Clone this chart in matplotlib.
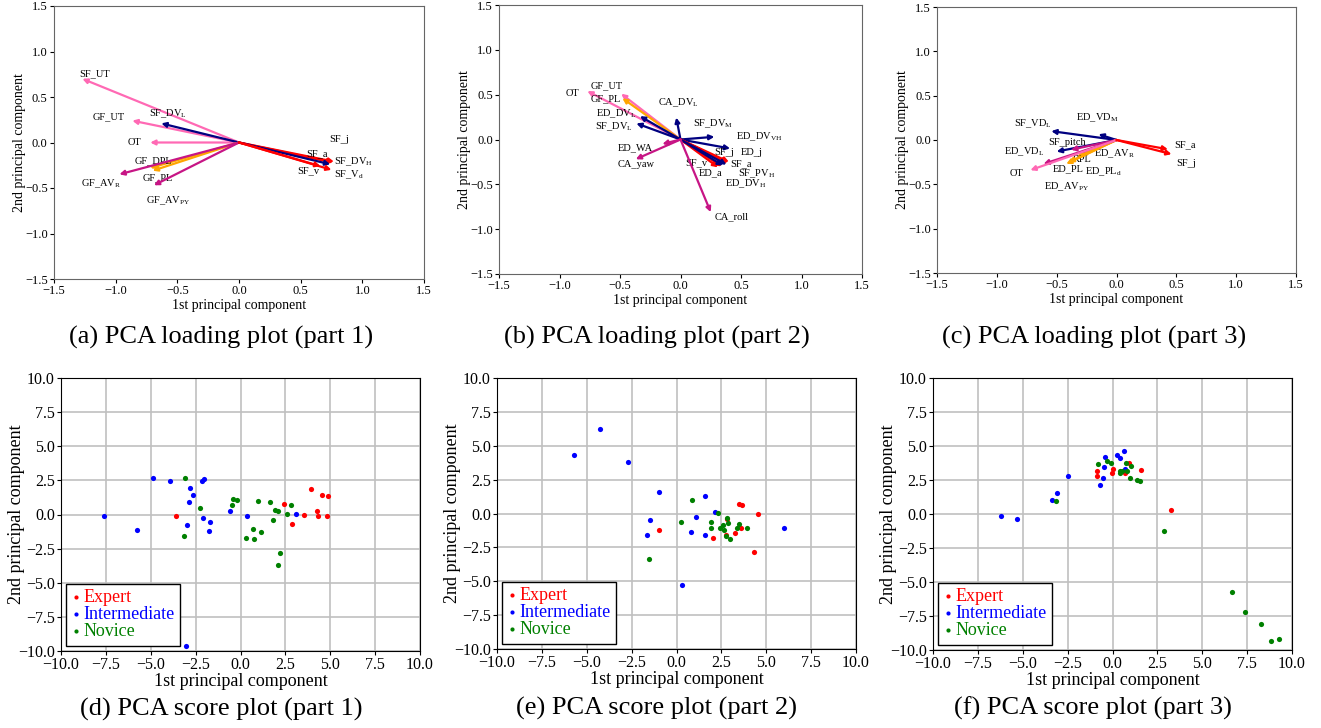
import matplotlib
matplotlib.use("Agg")
from matplotlib import pyplot as plt

plt.rcParams['font.family'] = ['Liberation Serif', 'DejaVu Serif']
plt.rcParams['mathtext.fontset'] = 'stix'
plt.rcParams['axes.unicode_minus'] = True

# colour per variable group
CAT_COLOR = {
    "kin": "#ff0000",   # a / j / v
    "dv": "#000080",    # DV / VD / PV
    "ut": "#ff69b4",    # UT / OT
    "pl": "#ffa500",    # PL
    "av": "#c71585",    # AV / CA_roll / CA_yaw / WA / pitch
}

# ---- loading plot, part 1
names_a = ["SF_UT", "GF_UT", "OT", r"SF_DV$_\mathregular{L}$", "GF_DPL", "GF_PL",
           r"GF_AV$_\mathregular{R}$", r"GF_AV$_\mathregular{PY}$", "SF_j", "SF_a",
           r"SF_DV$_\mathregular{H}$", "SF_v", r"SF_V$_\mathregular{d}$"]
pc1_a = [-1.27, -0.865, -0.72, -0.63, -0.72, -0.70, -0.97, -0.69, 0.77, 0.76, 0.74, 0.66, 0.75]
pc2_a = [0.70, 0.24, 0.0, 0.21, -0.28, -0.31, -0.35, -0.47, -0.21, -0.22, -0.24, -0.26, -0.30]
cat_a = ["ut", "ut", "ut", "dv", "pl", "pl", "av", "av", "kin", "kin", "dv", "kin", "kin"]

# ---- loading plot, part 2
names_b = ["OT", "GF_UT", "GF_PL", r"ED_DV$_\mathregular{L}$", r"SF_DV$_\mathregular{L}$",
           r"CA_DV$_\mathregular{L}$", r"SF_DV$_\mathregular{M}$", r"ED_DV$_\mathregular{VH}$",
           "SF_j", "ED_j", "SF_a", r"SF_PV$_\mathregular{H}$", "SF_v", "ED_a",
           r"ED_DV$_\mathregular{H}$", "ED_WA", "CA_yaw", "CA_roll"]
pc1_b = [-0.77, -0.49, -0.48, -0.335, -0.365, -0.035, 0.28, 0.41, 0.40, 0.39, 0.38, 0.38,
         0.31, 0.34, 0.35, -0.15, -0.37, 0.25]
pc2_b = [0.54, 0.51, 0.46, 0.26, 0.18, 0.245, 0.03, -0.10, -0.25, -0.26, -0.27, -0.28,
         -0.31, -0.30, -0.29, -0.05, -0.22, -0.81]
cat_b = ["ut", "ut", "pl", "dv", "dv", "dv", "dv", "dv", "kin", "kin", "kin", "dv",
         "kin", "kin", "dv", "av", "av", "av"]

# ---- loading plot, part 3
names_c = [r"SF_VD$_\mathregular{L}$", r"ED_VD$_\mathregular{M}$", r"ED_VD$_\mathregular{L}$",
           "SF_pitch", r"ED_AV$_\mathregular{R}$", "RPL", "ED_PL", r"ED_PL$_\mathregular{d}$",
           r"ED_AV$_\mathregular{PY}$", "OT", "SF_a", "SF_j"]
pc1_c = [-0.545, -0.15, -0.50, -0.38, -0.30, -0.33, -0.42, -0.40, -0.61, -0.72, 0.43, 0.46]
pc2_c = [0.10, 0.065, -0.13, -0.11, -0.16, -0.19, -0.27, -0.25, -0.27, -0.34, -0.105, -0.16]
cat_c = ["dv", "dv", "dv", "av", "av", "pl", "pl", "pl", "av", "ut", "kin", "kin"]

# label placement (centre of each label, data units)
lab_a = [(-1.17, 0.75), (-1.06, 0.28), (-0.85, 0.0), (-0.58, 0.32), (-0.69, -0.20),
         (-0.66, -0.385), (-1.12, -0.45), (-0.57, -0.64), (0.81, 0.03), (0.63, -0.12),
         (0.93, -0.21), (0.56, -0.31), (0.89, -0.355)]
lab_b = [(-0.89, 0.51), (-0.61, 0.60), (-0.62, 0.45), (-0.535, 0.29), (-0.55, 0.14),
         (-0.015, 0.41), (0.27, 0.18), (0.65, 0.035), (0.36, -0.14), (0.59, -0.14),
         (0.50, -0.275), (0.63, -0.385), (0.13, -0.256), (0.25, -0.37), (0.54, -0.49),
         (-0.37, -0.09), (-0.37, -0.275), (0.42, -0.86)]
lab_c = [(-0.70, 0.18), (-0.16, 0.25), (-0.77, -0.135), (-0.415, -0.026), (-0.02, -0.157),
         (-0.285, -0.217), (-0.40, -0.32), (-0.11, -0.356), (-0.415, -0.53), (-0.84, -0.375),
         (0.57, -0.056), (0.58, -0.27)]

# ---- score plots
groups = ["Expert", "Intermediate", "Novice"]
group_colors = ["red", "blue", "green"]

d_exp_x = [-3.61, 2.44, 2.87, 3.54, 3.95, 4.28, 4.34, 4.56, 4.80, 4.86]
d_exp_y = [-0.10, 0.78, -0.71, -0.07, 1.88, 0.29, -0.10, 1.42, -0.10, 1.32]
d_int_x = [-7.60, -5.78, -4.86, -3.91, -2.81, -2.65, -2.87, -3.00, -2.14, -2.05, -2.07,
           -1.68, -1.75, -0.57, 0.36, 3.07, -3.05]
d_int_y = [-0.12, -1.12, 2.71, 2.42, 1.96, 1.44, 0.95, -0.78, 2.49, 2.62, -0.29,
           -0.56, -1.22, 0.29, -0.12, 0.07, -9.61]
d_nov_x = [-3.07, -2.26, -3.17, -0.49, -0.42, -0.19, 0.29, 0.69, 0.75, 0.99, 1.12, 1.62,
           1.79, 1.94, 2.09, 2.20, 2.07, 2.59, 2.81]
d_nov_y = [2.64, 0.44, -1.56, 0.66, 1.12, 1.03, -1.71, -1.03, -1.78, 0.98, -1.27, 0.90,
           -0.37, 0.32, 0.22, -2.79, -3.69, 0.02, 0.71]

e_exp_x = [-0.99, 2.01, 2.77, 2.81, 3.27, 3.46, 3.66, 3.57, 4.33, 4.55]
e_exp_y = [-1.21, -1.83, -1.58, -0.40, -1.44, 0.70, 0.60, -1.07, -2.86, -0.04]
e_int_x = [-5.72, -4.28, -2.68, -0.97, -1.47, -1.67, 0.28, 0.82, 1.06, 1.56, 1.60, 2.17, 6.00]
e_int_y = [4.31, 6.20, 3.77, 1.56, -0.48, -1.61, -5.31, -1.34, -0.28, -1.56, 1.31, 0.11, -1.07]
e_nov_x = [-1.52, 0.24, 0.86, 1.90, 1.90, 2.30, 2.42, 2.60, 2.64, 2.73, 2.79, 2.86, 2.96,
           3.38, 3.49, 3.90]
e_nov_y = [-3.35, -0.65, 0.99, -0.65, -1.04, 0.04, -1.09, -0.85, -1.21, -1.63, -0.33, -0.67,
           -1.88, -1.04, -0.80, -1.07]

f_exp_x = [-0.85, -0.85, -0.03, 0.03, 0.68, 0.90, 1.57, 3.24]
f_exp_y = [3.18, 2.81, 3.01, 3.33, 3.01, 3.74, 3.23, 0.28]
f_int_x = [-6.19, -5.34, -3.39, -3.07, -2.48, -0.70, -0.53, -0.47, -0.44, 0.27, 0.40, 0.62, 0.71]
f_int_y = [-0.16, -0.36, 1.04, 1.56, 2.76, 2.10, 2.64, 3.47, 4.16, 4.33, 4.13, 4.60, 3.33]
f_nov_x = [-3.17, -0.81, -0.31, -0.08, 0.40, 0.41, 0.51, 0.73, 0.83, 1.01, 0.99, 1.38, 1.55,
           2.87, 6.66, 7.36, 8.29, 8.81, 9.26]
f_nov_y = [0.94, 3.69, 3.87, 3.74, 3.13, 3.01, 3.13, 3.74, 3.18, 3.55, 2.64, 2.47, 2.44,
           -1.26, -5.75, -7.18, -8.06, -9.31, -9.17]

W, H = 1321, 728


def px_axes(fig, left, right, top, bottom):
    return fig.add_axes([left / W, 1 - bottom / H, (right - left) / W, (bottom - top) / H])


def loading_panel(ax, names, pc1, pc2, cats, labels):
    for name, x, y, cat, (lx, ly) in zip(names, pc1, pc2, cats, labels):
        ax.annotate("", xy=(x, y), xytext=(0, 0),
                    arrowprops=dict(arrowstyle="-|>", color=CAT_COLOR[cat], lw=1.6,
                                    mutation_scale=7, shrinkA=0, shrinkB=0))
        ax.text(lx, ly, name, fontsize=7.5, ha="center", va="center")
    ax.set_xlim(-1.5, 1.5)
    ax.set_ylim(-1.5, 1.5)
    ax.set_xticks([-1.5, -1.0, -0.5, 0.0, 0.5, 1.0, 1.5])
    ax.set_yticks([-1.5, -1.0, -0.5, 0.0, 0.5, 1.0, 1.5])
    ax.tick_params(labelsize=9, length=3, pad=1.5)
    ax.set_xlabel("1st principal component", fontsize=10, labelpad=1)
    ax.set_ylabel("2nd principal component", fontsize=10, labelpad=-1)
    for sp in ax.spines.values():
        sp.set_color("#666666")


def score_panel(ax, xs, ys):
    for g, c, x, y in zip(groups, group_colors, xs, ys):
        ax.scatter(x, y, s=14, color=c, label=g, zorder=3, linewidths=0)
    ax.set_xlim(-10, 10)
    ax.set_ylim(-10, 10)
    ticks = [-10, -7.5, -5, -2.5, 0, 2.5, 5, 7.5, 10]
    ax.set_xticks(ticks)
    ax.set_yticks(ticks)
    ax.set_xticklabels([f"{t:.1f}".replace("-", "\u2212") for t in ticks])
    ax.set_yticklabels([f"{t:.1f}".replace("-", "\u2212") for t in ticks])
    ax.grid(True, color="#c0c0c0", lw=1.2)
    ax.set_axisbelow(True)
    ax.tick_params(labelsize=11.5, length=3, pad=1.5)
    ax.set_xlabel("1st principal component", fontsize=13, labelpad=0)
    ax.set_ylabel("2nd principal component", fontsize=13, labelpad=-5)
    leg = ax.legend(loc="lower left", fontsize=13, fancybox=False, edgecolor="black",
                    framealpha=1, handletextpad=0.15, labelspacing=0.0, borderpad=0.3,
                    borderaxespad=0.3, handlelength=0.5, markerscale=0.8)
    leg.get_frame().set_linewidth(1.0)
    for t, c in zip(leg.get_texts(), group_colors):
        t.set_color(c)


fig = plt.figure(figsize=(W / 100, H / 100), dpi=100)

ax_a = px_axes(fig, 54, 424, 6, 279)
ax_b = px_axes(fig, 499, 862, 5, 274)
ax_c = px_axes(fig, 937, 1296, 7, 273)
ax_d = px_axes(fig, 61, 420, 378, 651)
ax_e = px_axes(fig, 497, 856, 378, 649)
ax_f = px_axes(fig, 933, 1292, 378, 650)

loading_panel(ax_a, names_a, pc1_a, pc2_a, cat_a, lab_a)
loading_panel(ax_b, names_b, pc1_b, pc2_b, cat_b, lab_b)
loading_panel(ax_c, names_c, pc1_c, pc2_c, cat_c, lab_c)

score_panel(ax_d, [d_exp_x, d_int_x, d_nov_x], [d_exp_y, d_int_y, d_nov_y])
score_panel(ax_e, [e_exp_x, e_int_x, e_nov_x], [e_exp_y, e_int_y, e_nov_y])
score_panel(ax_f, [f_exp_x, f_int_x, f_nov_x], [f_exp_y, f_int_y, f_nov_y])

captions = [
    ("(a) PCA loading plot (part 1)", 221, 344),
    ("(b) PCA loading plot (part 2)", 657, 344),
    ("(c) PCA loading plot (part 3)", 1094, 344),
    ("(d) PCA score plot (part 1)", 221, 716),
    ("(e) PCA score plot (part 2)", 657, 715),
    ("(f) PCA score plot (part 3)", 1093, 715),
]
for txt, cx, by in captions:
    fig.text(cx / W, 1 - by / H, txt, fontsize=19, ha="center", va="baseline")

fig.savefig("out.png", dpi=100)
